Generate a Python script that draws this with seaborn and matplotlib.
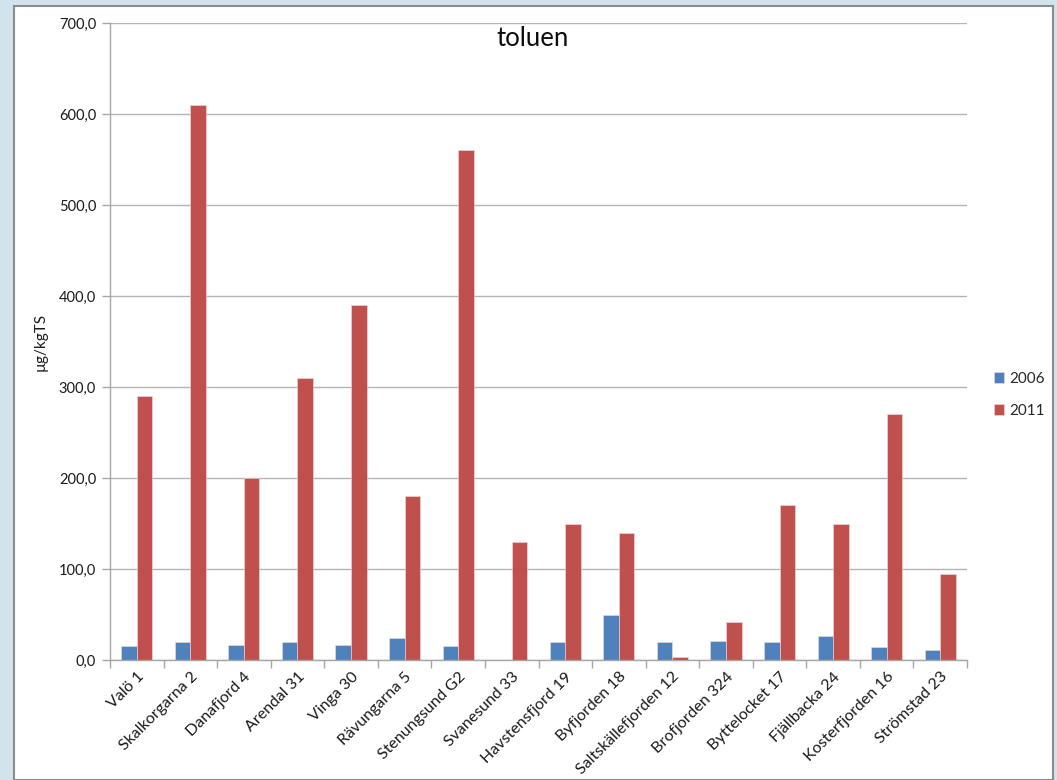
import matplotlib
matplotlib.use("Agg")
import matplotlib.pyplot as plt
import seaborn as sns
import pandas as pd
from matplotlib.patches import Rectangle
from matplotlib.ticker import FuncFormatter, MultipleLocator

stations = ["Valö 1", "Skalkorgarna 2", "Danafjord 4", "Arendal 31", "Vinga 30",
            "Rävungarna 5", "Stenungsund G2", "Svanesund 33", "Havstensfjord 19",
            "Byfjorden 18", "Saltskällefjorden 12", "Brofjorden 324", "Byttelocket 17",
            "Fjällbacka 24", "Kosterfjorden 16", "Strömstad 23"]
v2006 = [15, 20, 16, 19.5, 17, 24.5, 15.5, 0, 19.5, 49, 19.5, 21, 19.5, 26, 14, 11]
v2011 = [290, 610, 200, 310, 390, 180, 560, 130, 150, 140, 3, 42, 170, 150, 270, 95]
years = ["2006", "2011"]

df = pd.DataFrame({
    "station": stations * 2,
    "year": [years[0]] * len(stations) + [years[1]] * len(stations),
    "value": v2006 + v2011,
})

sns.set_theme(style="white")
plt.rcParams['font.family'] = ['Lato', 'DejaVu Sans']

W, H = 1057, 780
fig = plt.figure(figsize=(W / 100, H / 100), dpi=100)
fig.patch.set_facecolor("#d2e4eb")
bg = Rectangle((14 / W, 0), (1053 - 14) / W, (H - 6) / H,
               transform=fig.transFigure, facecolor="white",
               edgecolor="#8c8c8c", linewidth=1.5, zorder=-10)
fig.patches.append(bg)

ax = fig.add_axes([110 / W, (H - 660) / H, (967 - 110) / W, (660 - 23) / H])
ax.set_zorder(5)
ax.set_facecolor("none")

sns.barplot(data=df, x="station", y="value", hue="year", hue_order=years,
            palette={"2006": "#4f81bd", "2011": "#c0504d"}, width=0.58,
            ax=ax, edgecolor="#f2dcdb", linewidth=0.4, saturation=1)

ax.set_ylim(0, 700)
ax.set_xlim(-0.5, len(stations) - 0.5)
ax.yaxis.set_major_locator(MultipleLocator(100))
ax.yaxis.set_major_formatter(FuncFormatter(lambda v, p: f"{v:.1f}".replace(".", ",")))
ax.grid(axis="y", color="#b3b3b3", linewidth=1)
ax.set_axisbelow(True)
for s in ["top", "right"]:
    ax.spines[s].set_visible(False)
for s in ["left", "bottom"]:
    ax.spines[s].set_color("#a6a6a6")
    ax.spines[s].set_linewidth(1)

ax.set_xticks(range(len(stations)))
ax.set_xticklabels(stations, rotation=45, ha="right", rotation_mode="anchor",
                   fontsize=11.5, color="#1a1a1a")
ax.set_xticks([i - 0.5 for i in range(len(stations) + 1)], minor=True)
ax.tick_params(axis="x", which="major", bottom=False, length=0, pad=7)
ax.tick_params(axis="x", which="minor", bottom=True, length=6, color="#a6a6a6",
               width=1, direction="out")
ax.tick_params(axis="y", left=True, length=6, color="#a6a6a6", width=1, direction="out",
               labelsize=10.5, labelcolor="#1a1a1a", pad=4)

ax.set_xlabel("")
ax.set_ylabel("µg/kgTS", fontsize=11, color="#1a1a1a", labelpad=8)

ax.legend(loc="center left", bbox_to_anchor=(980 / W, (H - 395) / H),
          bbox_transform=fig.transFigure, frameon=False, fontsize=11,
          handlelength=0.7, handleheight=0.7, handletextpad=0.3, labelspacing=1.2)

fig.text(533 / W, (H - 38) / H, "toluen", ha="center", va="center",
         fontsize=18.5, color="#0d0d0d", zorder=10)

fig.savefig("out.png", dpi=100, facecolor=fig.get_facecolor())
